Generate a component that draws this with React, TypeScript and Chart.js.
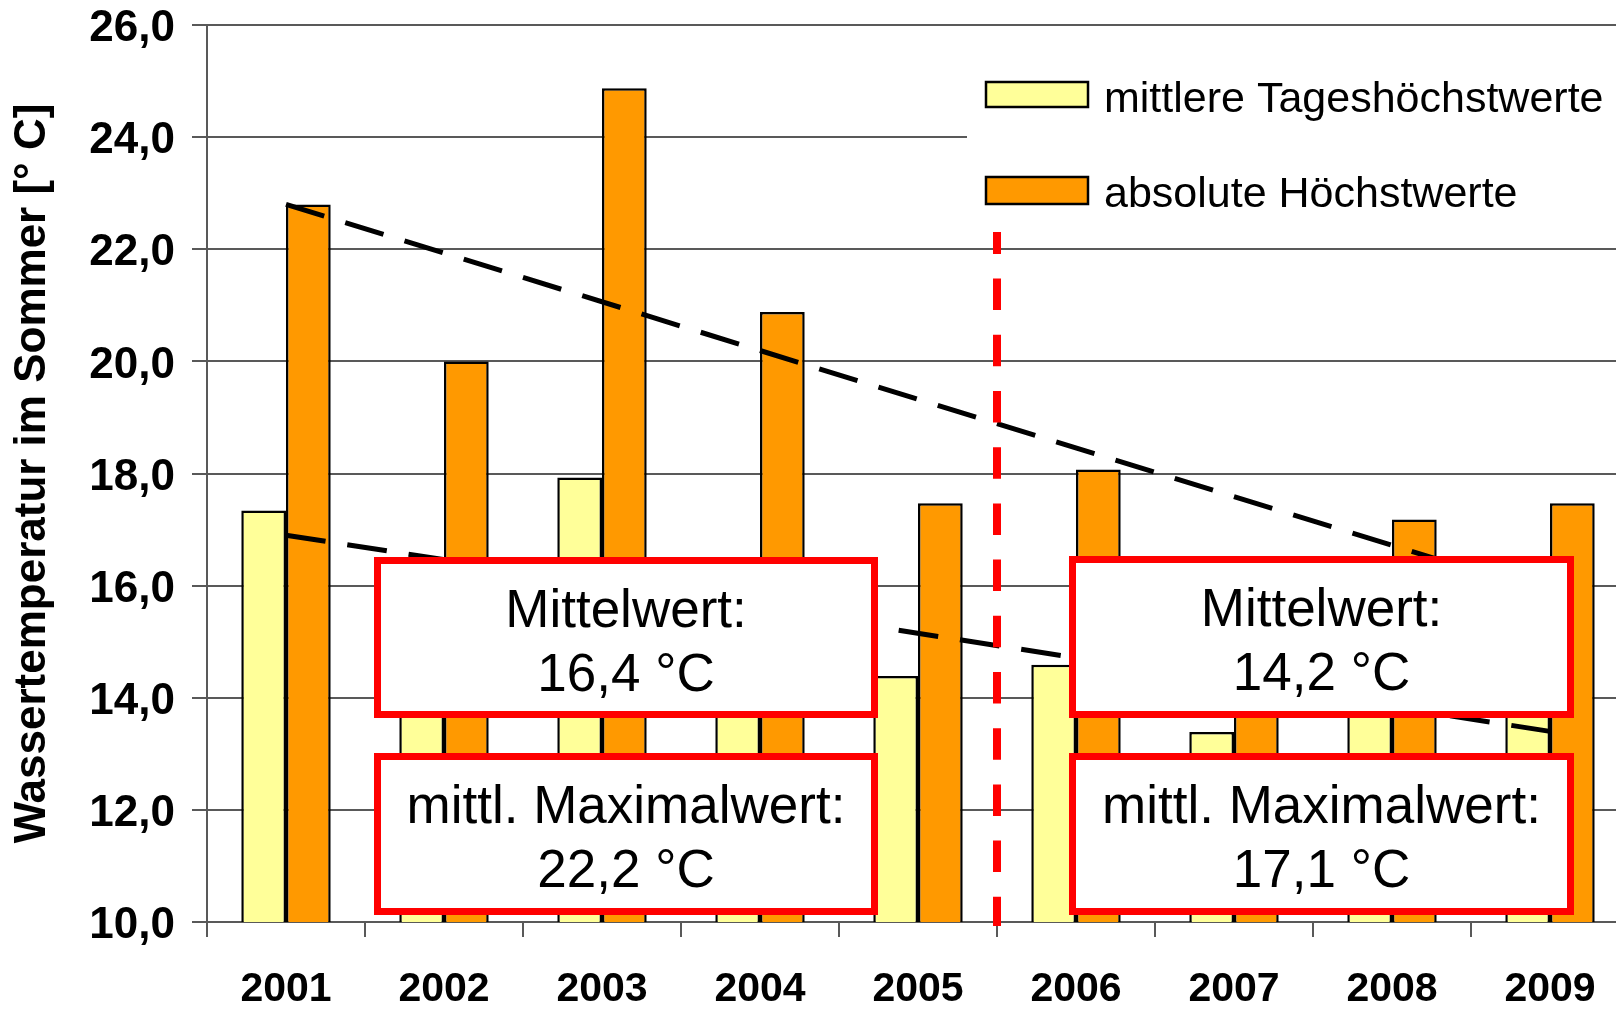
import React, { useEffect, useRef } from 'react';
import { Chart, registerables } from 'chart.js';

Chart.register(...registerables);

// ---------- data ----------
const years = ['2001', '2002', '2003', '2004', '2005', '2006', '2007', '2008', '2009'];
const meanDailyMax = [17.34, 16.2, 17.93, 16.2, 14.39, 14.59, 13.39, 14.4, 14.4];
const absoluteMax = [22.8, 20.0, 24.87, 20.88, 17.47, 18.07, 15.6, 17.18, 17.47];
const trendAbsoluteMax = [22.8, null, null, null, null, null, null, null, 15.85];
const trendMeanDailyMax = [16.9, null, null, null, null, null, null, null, 13.4];
const yTickValues = [10, 12, 14, 16, 18, 20, 22, 24, 26];
const seriesLabels = ['mittlere Tageshöchstwerte', 'absolute Höchstwerte'];
const yAxisTitle = 'Wassertemperatur im Sommer [° C]';
const boxTexts = [
  ['Mittelwert:', '16,4 °C'],
  ['mittl. Maximalwert:', '22,2 °C'],
  ['Mittelwert:', '14,2 °C'],
  ['mittl. Maximalwert:', '17,1 °C'],
];
const periodSplitIndex = 4.5; // between 2005 and 2006

// ---------- layout / style ----------
const FONT = "'Liberation Sans', Arial, Helvetica, sans-serif";
const YELLOW = '#FFFF99';
const ORANGE = '#FF9900';
const GRID = '#595959';
const RED = '#FF0000';
const boxRects = [
  { x: 374, y: 557, w: 504, h: 161 },
  { x: 374, y: 753, w: 504, h: 162 },
  { x: 1069, y: 556, w: 505, h: 162 },
  { x: 1069, y: 753, w: 505, h: 162 },
];

const overlayPlugin = {
  id: 'overlay',
  beforeDatasetsDraw(chart: any) {
    const ctx = chart.ctx;
    ctx.save();
    ctx.fillStyle = '#FFFFFF';
    ctx.fillRect(967, 40, 700, 192);
    ctx.restore();
  },
  afterDatasetsDraw(chart: any) {
    const ctx = chart.ctx;
    const xs = chart.scales.x;
    const ys = chart.scales.y;
    // red dashed separator
    const sx = xs.getPixelForValue(periodSplitIndex);
    ctx.save();
    ctx.strokeStyle = RED;
    ctx.lineWidth = 8;
    ctx.setLineDash([31.5, 24.7]);
    ctx.lineDashOffset = 9.6;
    ctx.beginPath();
    ctx.moveTo(sx, 232);
    ctx.lineTo(sx, ys.bottom + 4);
    ctx.stroke();
    ctx.restore();

    // boxes
    boxRects.forEach((r, i) => {
      ctx.save();
      ctx.fillStyle = '#FFFFFF';
      ctx.fillRect(r.x, r.y, r.w, r.h);
      ctx.strokeStyle = RED;
      ctx.lineWidth = 7;
      ctx.strokeRect(r.x + 3.5, r.y + 3.5, r.w - 7, r.h - 7);
      ctx.fillStyle = '#000000';
      ctx.font = `53px ${FONT}`;
      ctx.textAlign = 'center';
      ctx.textBaseline = 'alphabetic';
      const cx = r.x + r.w / 2;
      ctx.fillText(boxTexts[i][0], cx, r.y + 70);
      ctx.fillText(boxTexts[i][1], cx, r.y + 134);
      ctx.restore();
    });
  },
  afterDraw(chart: any) {
    const ctx = chart.ctx;
    const colors = [YELLOW, ORANGE];
    const swatches = [
      { x: 986, y: 82, w: 102, h: 25, ty: 111.7 },
      { x: 986, y: 177, w: 102, h: 27, ty: 206.7 },
    ];
    ctx.save();
    swatches.forEach((s, i) => {
      ctx.fillStyle = colors[i];
      ctx.fillRect(s.x, s.y, s.w, s.h);
      ctx.strokeStyle = '#000';
      ctx.lineWidth = 2.5;
      ctx.strokeRect(s.x, s.y, s.w, s.h);
      ctx.fillStyle = '#000';
      ctx.font = `43px ${FONT}`;
      ctx.textAlign = 'left';
      ctx.textBaseline = 'alphabetic';
      ctx.fillText(seriesLabels[i], 1104, s.ty);
    });
    ctx.restore();
  },
};

export default function App() {
  const ref = useRef<HTMLCanvasElement>(null);

  useEffect(() => {
    const canvas = ref.current;
    if (!canvas) return;
    const chart = new Chart(canvas, {
      type: 'bar',
      data: {
        labels: years,
        datasets: [
          {
            type: 'line',
            label: 'Trend absolute Höchstwerte',
            data: trendAbsoluteMax,
            borderColor: '#000',
            borderWidth: 5,
            borderDash: [40, 22],
            pointRadius: 0,
            spanGaps: true,
            fill: false,
            tension: 0,
            order: 0,
          } as any,
          {
            type: 'line',
            label: 'Trend mittlere Tageshöchstwerte',
            data: trendMeanDailyMax,
            borderColor: '#000',
            borderWidth: 5,
            borderDash: [40, 22],
            pointRadius: 0,
            spanGaps: true,
            fill: false,
            tension: 0,
            order: 0,
          } as any,
          {
            type: 'bar',
            label: seriesLabels[0],
            data: meanDailyMax,
            backgroundColor: YELLOW,
            borderColor: '#000',
            borderWidth: 2.5,
            categoryPercentage: 0.566,
            barPercentage: 1,
            order: 1,
          },
          {
            type: 'bar',
            label: seriesLabels[1],
            data: absoluteMax,
            backgroundColor: ORANGE,
            borderColor: '#000',
            borderWidth: 2.5,
            categoryPercentage: 0.566,
            barPercentage: 1,
            order: 1,
          },
        ],
      },
      options: {
        responsive: false,
        animation: false,
        devicePixelRatio: 1,
        layout: { padding: { top: 25, left: 0, right: 0, bottom: 0 } },
        plugins: {
          legend: { display: false },
          tooltip: { enabled: false },
        },
        scales: {
          x: {
            afterFit: (s: any) => { s.height = 87; s.paddingLeft = 0; s.paddingRight = 0; },
            ticks: {
              font: { family: FONT, size: 41, weight: 'bold' },
              color: '#000',
              padding: 28,
            },
            grid: {
              drawOnChartArea: false,
              color: GRID,
              lineWidth: 2,
              tickLength: 15,
              offset: true,
            },
            border: { color: GRID, width: 2 },
          },
          y: {
            min: 10,
            max: 26,
            afterFit: (s: any) => { s.width = 207; s.paddingTop = 0; s.paddingBottom = 0; },
            afterBuildTicks: (s: any) => { s.ticks = yTickValues.map((v) => ({ value: v })); },
            ticks: {
              font: { family: FONT, size: 44, weight: 'bold' },
              color: '#000',
              padding: 17,
              labelOffset: 4,
              callback: (v: any) => Number(v).toFixed(1).replace('.', ','),
            },
            grid: { color: GRID, lineWidth: 2, tickLength: 15 },
            border: { color: GRID, width: 2 },
            title: {
              display: true,
              text: yAxisTitle,
              font: { family: FONT, size: 44, weight: 'bold' },
              color: '#000',
              padding: { top: 6, bottom: 0 },
            },
          },
        },
      } as any,
      plugins: [overlayPlugin],
    });
    return () => chart.destroy();
  }, []);

  return (
    <div
      style={{
        position: 'fixed',
        left: 0,
        top: 0,
        width: 1616,
        height: 1009,
        overflow: 'hidden',
        background: '#fff',
      }}
    >
      <canvas
        ref={ref}
        width={1629}
        height={1009}
        style={{ display: 'block', width: 1629, height: 1009 }}
      />
    </div>
  );
}
